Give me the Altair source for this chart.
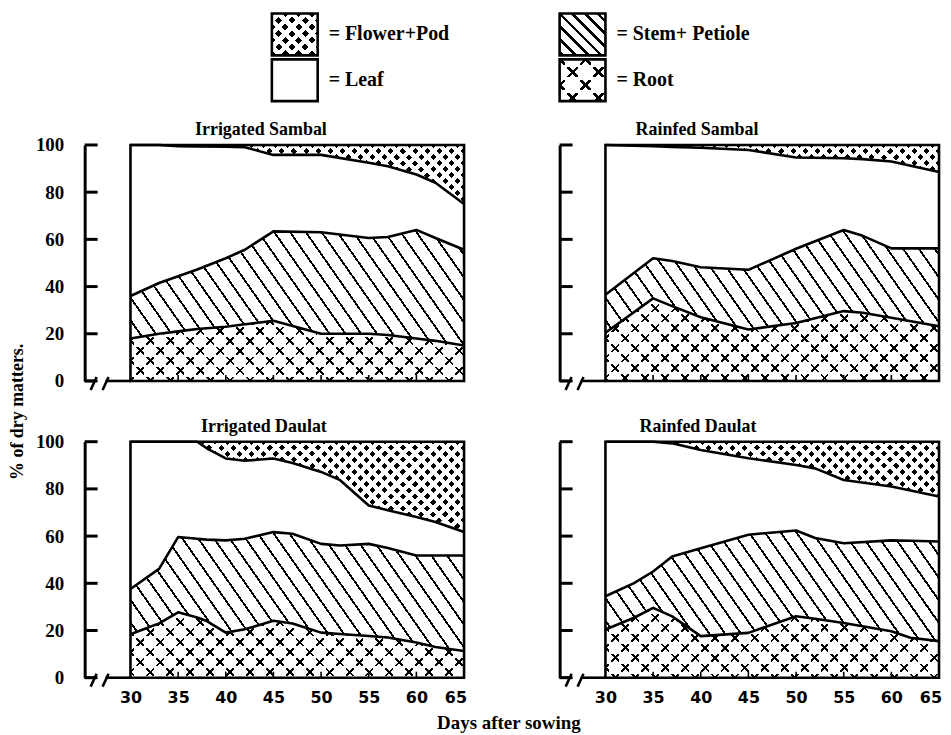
import math
import altair as alt
import pandas as pd

# ---------------- data (cumulative % of dry matter) ----------------
days_is = [30, 33, 35, 37, 40, 42, 45, 50, 55, 57, 60, 62, 65]
root_is = [18, 20, 21, 22, 23, 24, 25.5, 20, 20, 19.5, 18, 17, 15]
stem_is = [36, 41.5, 44.4, 47.2, 52, 55.6, 63.4, 63, 60.6, 61, 64, 60.6, 55.6]
leaf_is = [100, 100, 99.5, 99.4, 99.3, 99, 95.8, 95.8, 92.5, 91, 87.5, 84, 75]

days_rs = [30, 35, 37, 40, 45, 50, 55, 57, 60, 65]
root_rs = [20.4, 35, 31.7, 27, 21.8, 24.6, 29.6, 28.9, 26.8, 23.2]
stem_rs = [36.5, 52, 50.8, 48.2, 47.1, 56, 64, 61.5, 56.2, 56.2]
leaf_rs = [100, 99.5, 99.2, 98.8, 97.9, 94.7, 94.4, 94, 93, 88.5]

days_id = [30, 33, 35, 37, 38, 40, 42, 45, 47, 50, 52, 55, 57, 60, 62, 65]
root_id = [18.4, 23, 27.7, 25.5, 24, 19.1, 20.5, 24.1, 23, 19.1, 18.5, 17.7, 17, 14.9, 13, 11.3]
stem_id = [37.6, 46.1, 59.6, 58.9, 58.5, 58.2, 58.9, 61.7, 61, 56.7, 56, 56.7, 55, 51.8, 51.8, 51.8]
leaf_id = [100, 100, 100, 100, 97.2, 92.9, 91.9, 92.9, 91, 87.2, 83.7, 73, 71, 68.1, 66, 61.7]

days_rd = [30, 33, 35, 37, 40, 45, 50, 52, 55, 60, 62, 65]
root_rd = [20.4, 25.4, 29.6, 26, 17.6, 19, 26, 25, 23.2, 19.7, 16.9, 15.5]
stem_rd = [34.5, 40.1, 45, 51.4, 54.9, 60.6, 62.4, 59.2, 57, 58.2, 58, 57.7]
leaf_rd = [100, 100, 100, 99.3, 96.5, 93, 90.1, 88.7, 83.8, 81, 79.3, 76.8]

titles = ["Irrigated Sambal", "Rainfed Sambal", "Irrigated Daulat", "Rainfed Daulat"]
y_ticks = [0, 20, 40, 60, 80, 100]
x_ticks = [30, 35, 40, 45, 50, 55, 60, 65]
legend_labels = ["= Flower+Pod", "= Leaf", "= Stem+ Petiole", "= Root"]
legend_parts = ["flower", "leaf", "stem", "root"]

# ---------------- styling ----------------
W, H = 335, 237
SERIF = "Liberation Serif"
SANS = "DejaVu Sans"
CLEAR = "rgba(0,0,0,0)"
CLEARW = "rgba(255,255,255,0)"
XS = alt.Scale(domain=[30, 65], nice=False, zero=False)
YS = alt.Scale(domain=[0, 100], nice=False, zero=False)


def stripes(bw, bh, ang, spacing, width, phase, on, off):
    """Linear gradient (bounding-box units) that draws parallel bands."""
    bw = max(bw, 1e-3)
    bh = max(bh, 1e-3)
    nx, ny = math.cos(math.radians(ang)), math.sin(math.radians(ang))
    corners = [(0, 0), (bw, 0), (0, bh), (bw, bh)]
    proj = [nx * cx + ny * cy for cx, cy in corners]
    pmin, pmax = min(proj), max(proj)
    L = pmax - pmin
    c0 = corners[proj.index(pmin)]
    q1 = (c0[0] / bw, c0[1] / bh)
    vx, vy = nx * bw / L, ny * bh / L
    vv = vx * vx + vy * vy
    q2 = (q1[0] + vx / vv, q1[1] + vy / vv)
    stops = [{"offset": 0, "color": off}]
    k = math.floor((pmin - phase) / spacing) - 1
    while True:
        c = phase + k * spacing
        if c - width / 2 > pmax:
            break
        a, b = max(c - width / 2, pmin), min(c + width / 2, pmax)
        if b > a:
            oa, ob = round((a - pmin) / L, 5), round((b - pmin) / L, 5)
            stops += [{"offset": oa, "color": off}, {"offset": oa, "color": on},
                      {"offset": ob, "color": on}, {"offset": ob, "color": off}]
        k += 1
    stops.append({"offset": 1, "color": off})
    return {"gradient": "linear", "x1": round(q1[0], 5), "y1": round(q1[1], 5),
            "x2": round(q2[0], 5), "y2": round(q2[1], 5), "stops": stops}


def root_fills(bw, bh, m=20, lw=2.0, hf=0.2):
    d = m / math.sqrt(2)
    h = hf * m
    return [stripes(bw, bh, -45, d, lw, 0, "black", CLEAR),
            stripes(bw, bh, 45, d, lw, 0, "black", CLEAR),
            stripes(bw, bh, 0, m / 2, 2 * h, 0, CLEARW, "white"),
            stripes(bw, bh, 90, m / 2, 2 * h, 0, CLEARW, "white")]


def stem_fills(bw, bh, ang=-35, sp=13, lw=1.9):
    return [stripes(bw, bh, ang, sp, lw, 0, "black", CLEAR)]


def flower_fills(bw, bh, s=8.6, w=4.3):
    return ["black",
            stripes(bw, bh, -45, s, w, 0, CLEARW, "white"),
            stripes(bw, bh, 45, s, w, 0, CLEARW, "white")]


def one():
    return pd.DataFrame({"k": [0]})


def panel(title, days, root, stem, leaf, left, bottom, title_x, extra=None):
    n = len(days)
    df = pd.DataFrame({"day": days, "zero": [0] * n, "root": root, "stem": stem,
                       "leaf": leaf, "full": [100] * n})
    hr = H * max(root) / 100
    hs = H * (max(stem) - min(root)) / 100
    hf = H * (100 - min(leaf)) / 100

    xa = None
    if bottom:
        xa = alt.Axis(values=x_ticks[:-1], domain=False, ticks=False, grid=False, title=None,
                      labelFont=SANS, labelFontWeight="bold", labelFontSize=16, labelFlush=False,
                      labelPadding=12, labelColor="black", labelOverlap=False)
    ya = alt.Axis(values=y_ticks, offset=46, domain=True, domainColor="black", domainWidth=3,
                  ticks=False, grid=False, title=None, labels=left,
                  labelFont=SERIF, labelFontWeight="bold", labelFontSize=19,
                  labelPadding=21, labelColor="black")

    def X(f):
        return alt.X(f, scale=XS, axis=xa)

    def Y(f):
        return alt.Y(f, scale=YS, axis=ya)

    layers = []
    for lo, hi, fills in [("zero", "root", root_fills(W, hr)),
                          ("root", "stem", stem_fills(W, hs)),
                          ("leaf", "full", flower_fills(W, hf))]:
        for f in fills:
            layers.append(alt.Chart(df).mark_area(fill=f, strokeWidth=0, opacity=1, interpolate="linear").encode(
                x=X("day:Q"), y=Y(f"{hi}:Q"), y2=alt.Y2(lo)))
    for fld in ["root", "stem", "leaf"]:
        layers.append(alt.Chart(df).mark_line(color="black", strokeWidth=2.6, strokeJoin="round").encode(
            x=X("day:Q"), y=Y(f"{fld}:Q")))

    # frame
    layers.append(alt.Chart(one()).mark_rect(fillOpacity=0, stroke="black", strokeWidth=2.6).encode(
        x=alt.value(0), x2=alt.value(W), y=alt.value(0), y2=alt.value(H)))
    # inward y ticks
    layers.append(alt.Chart(pd.DataFrame({"v": y_ticks})).mark_rule(color="black", strokeWidth=3).encode(
        y=Y("v:Q"), x=alt.value(-46), x2=alt.value(-33)))
    # inward x ticks
    layers.append(alt.Chart(pd.DataFrame({"v": x_ticks[1:-1]})).mark_rule(color="black", strokeWidth=1.6).encode(
        x=X("v:Q"), y=alt.value(H), y2=alt.value(H - 6)))
    # last x label, right-aligned at the frame edge
    if bottom:
        layers.append(alt.Chart(pd.DataFrame({"v": x_ticks[-1:], "t": [str(x_ticks[-1])]})).mark_text(
            font=SANS, fontWeight="bold", fontSize=16, color="black", align="right", baseline="top", dx=3).encode(
            x=X("v:Q"), y=alt.value(H + 12), text="t:N"))
    # broken base line
    for x1, x2, y1, y2 in [(-46, -37, H, H), (-25, 0, H, H), (-40, -34, H + 9, H - 4), (-28, -22, H + 9, H - 4)]:
        layers.append(alt.Chart(one()).mark_rule(color="black", strokeWidth=2.6).encode(
            x=alt.value(x1), x2=alt.value(x2), y=alt.value(y1), y2=alt.value(y2)))
    # panel title
    layers.append(alt.Chart(pd.DataFrame({"t": [title]})).mark_text(
        font=SERIF, fontWeight="bold", fontSize=18, color="black", align="center", baseline="alphabetic").encode(
        text="t:N", x=alt.value(title_x), y=alt.value(-10)))
    if extra:
        layers += extra
    return alt.layer(*layers).properties(width=W, height=H)


ytitle = alt.Chart(pd.DataFrame({"t": ["% of dry matters."]})).mark_text(
    font=SERIF, fontWeight="bold", fontSize=18, color="black", angle=270,
    align="center", baseline="middle").encode(text="t:N", x=alt.value(-113), y=alt.value(H + 31))
xtitle = alt.Chart(pd.DataFrame({"t": ["Days after sowing"]})).mark_text(
    font=SERIF, fontWeight="bold", fontSize=19, color="black",
    align="center", baseline="alphabetic").encode(text="t:N", x=alt.value(380), y=alt.value(H + 52))

p1 = panel(titles[0], days_is, root_is, stem_is, leaf_is, True, False, 131, [ytitle])
p2 = panel(titles[1], days_rs, root_rs, stem_rs, leaf_rs, False, False, 92)
p3 = panel(titles[2], days_id, root_id, stem_id, leaf_id, True, True, 134, [xtitle])
p4 = panel(titles[3], days_rd, root_rd, stem_rd, leaf_rd, False, True, 93)

# ---------------- legend ----------------
SW, SH = 46, 42
leg = pd.DataFrame({"part": legend_parts, "label": legend_labels,
                    "col": [0, 0, 1, 1], "row": [0, 1, 0, 1]})
LX = alt.Scale(domain=[0, 1], range=[165, 454])
LY = alt.Scale(domain=[0, 1], range=[21, 67])
leg_fills = {"flower": flower_fills(SW, SH, s=9.5, w=5.0),
             "leaf": ["white"],
             "stem": stem_fills(SW, SH, ang=-45, sp=9, lw=2.6),
             "root": root_fills(SW, SH, m=26, lw=2.6, hf=0.2)}
leg_layers = []
for part in legend_parts:
    for f in leg_fills[part]:
        leg_layers.append(alt.Chart(leg).transform_filter(alt.datum.part == part).mark_rect(
            fill=f, width=SW, height=SH, strokeWidth=0).encode(
            x=alt.X("col:Q", scale=LX, axis=None), y=alt.Y("row:Q", scale=LY, axis=None)))
leg_layers.append(alt.Chart(leg).mark_rect(fillOpacity=0, stroke="black", strokeWidth=2.6,
                                           width=SW, height=SH).encode(
    x=alt.X("col:Q", scale=LX, axis=None), y=alt.Y("row:Q", scale=LY, axis=None)))
leg_layers.append(alt.Chart(leg).mark_text(font=SERIF, fontWeight="bold", fontSize=20, color="black",
                                           align="left", baseline="middle", dx=34).encode(
    x=alt.X("col:Q", scale=LX, axis=None), y=alt.Y("row:Q", scale=LY, axis=None), text="label:N"))
legend = alt.layer(*leg_layers).properties(width=W, height=71)

blank = alt.Chart(one()).mark_point(opacity=0).encode(
    x=alt.value(0), y=alt.value(0)).properties(width=W, height=71)

chart = alt.concat(legend, blank, p1, p2, p3, p4, columns=2,
                   spacing={"row": 61, "column": 142}, bounds="flush").properties(
    padding=0, background="white"
).configure_view(stroke="transparent")

chart.save("out.html", embed_options={"renderer": "svg", "actions": False})
